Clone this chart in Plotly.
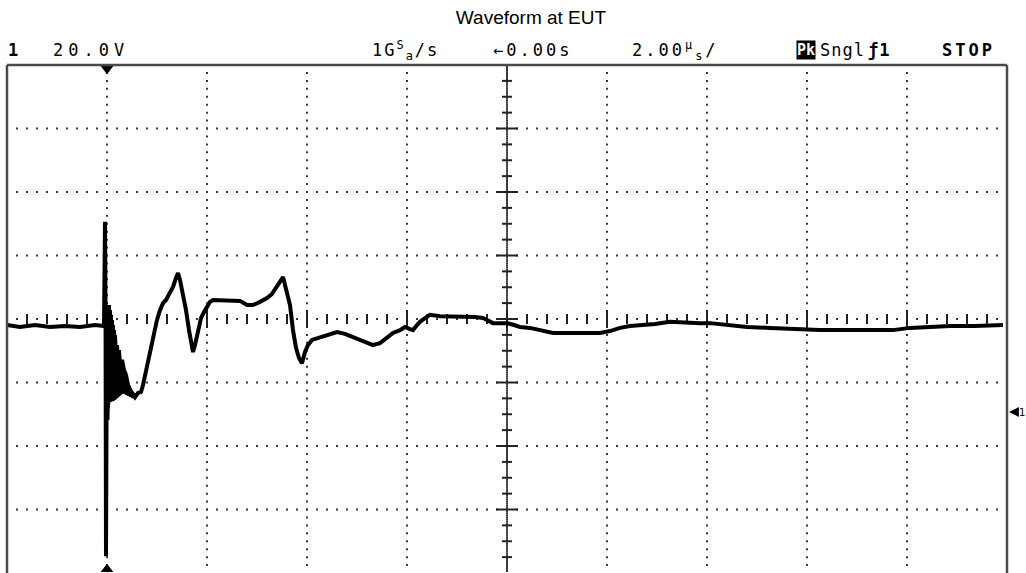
import plotly.graph_objects as go

# ---------------- data (time in µs, voltage in V relative to screen centre) -------------
t_us = [-10.0, -9.74, -9.44, -9.14, -8.84, -8.54, -8.24, -8.06,
        -8.04, -8.03, -8.02, -8.01, -8.00, -7.99, -7.98, -7.97, -7.96, -7.95, -7.94, -7.93,
        -7.92, -7.91, -7.90, -7.89, -7.88, -7.87, -7.86, -7.85, -7.84, -7.82, -7.80, -7.78,
        -7.76, -7.74, -7.70, -7.66, -7.62, -7.58, -7.54, -7.48, -7.44, -7.38, -7.32, -7.28,
        -7.22, -7.14, -7.06, -7.00, -6.94, -6.88, -6.82, -6.76, -6.68, -6.62, -6.58, -6.54,
        -6.48, -6.42, -6.36, -6.32, -6.28, -6.24, -6.18, -6.12, -6.06, -6.00, -5.94, -5.88,
        -5.74, -5.54, -5.34, -5.20, -5.08, -4.94, -4.80, -4.70, -4.60, -4.54, -4.48, -4.44,
        -4.40, -4.34, -4.28, -4.22, -4.16, -4.10, -4.04, -3.98, -3.90, -3.74, -3.54, -3.40,
        -3.24, -3.08, -2.94, -2.80, -2.68, -2.54, -2.40, -2.28, -2.14, -2.04, -1.94, -1.88,
        -1.80, -1.74, -1.64, -1.54, -1.34, -1.20, -1.04, -0.80, -0.64, -0.48, -0.34, -0.28,
        -0.14, 0.00, 0.14, 0.26, 0.46, 0.66, 0.80, 0.92, 1.16, 1.46, 1.86, 2.06, 2.26, 2.46,
        2.72, 2.96, 3.26, 3.60, 3.86, 4.06, 4.36, 4.80, 5.26, 5.72, 6.26, 6.66, 7.06, 7.46,
        7.72, 8.06, 8.40, 8.86, 9.36, 9.92]
volts = [-1.9, -2.5, -1.9, -2.5, -2.2, -2.5, -1.9, -2.2,
         30.6, 6.0, -74.7, -3.5, 4.4, -31.8, 2.8, -25.5, 4.4, -22.4, 2.8, -20.8,
         1.3, -18.6, -0.3, -16.7, -1.9, -15.4, -3.5, -14.8, -5.0, -12.9, -8.2, -13.5,
         -9.8, -14.5, -12.9, -16.1, -17.6, -20.8, -22.4, -23.6, -24.6, -23.3, -23.0, -20.8,
         -16.1, -9.8, -4.4, -0.3, 2.8, 5.0, 6.0, 7.6, 10.1, 12.9, 14.5, 12.3,
         8.2, 2.8, -3.5, -6.6, -10.4, -8.2, -3.5, 0.3, 2.2, 3.8, 5.4, 6.0,
         6.0, 6.0, 5.7, 4.4, 4.4, 5.4, 6.6, 7.9, 10.1, 11.7, 13.2, 10.7,
         8.2, 4.4, -3.5, -9.1, -12.3, -13.9, -10.4, -8.2, -6.6, -5.7, -4.7, -4.1,
         -4.7, -5.7, -6.6, -7.6, -8.2, -7.6, -6.0, -4.4, -3.5, -2.5, -3.2, -3.5,
         -1.9, -0.9, 0.3, 1.3, 0.9, 0.9, 0.6, 0.6, 0.6, 0.3, -0.6, -1.3,
         -1.3, -1.3, -1.9, -2.5, -2.8, -3.5, -4.1, -4.4, -4.4, -4.4, -4.4, -3.8, -2.8, -2.2,
         -1.9, -1.6, -0.9, -1.3, -1.3, -1.3, -1.9, -2.5, -2.8, -3.2, -3.5, -3.5, -3.5, -3.5,
         -3.5, -2.8, -2.5, -2.2, -2.2, -1.9]

# envelope of the dense ringing just after the spike (outline)
ring_t = [-8.04, -8.00, -7.94, -7.88, -7.84, -7.74, -7.60, -7.48, -7.40,
          -7.48, -7.68, -7.84, -7.94, -8.00, -8.02]
ring_v = [5.0, 4.4, 1.3, -3.5, -6.6, -12.9, -19.2, -23.0, -24.6,
          -24.9, -23.3, -25.5, -26.1, -31.8, -38.1]

# screen settings
US_PER_DIV = 2.0
V_PER_DIV = 20.0
X_DIVS = [-10, -8, -6, -4, -2, 0, 2, 4, 6, 8, 10]
Y_DIVS = [-80, -60, -40, -20, 0, 20, 40, 60, 80]
TRIGGER_T = -8.0
GROUND_V = -29.3

header_items = [  # text, left pixel, bold, letter spacing
    ("1", 6, True, 0),
    ("20.0V", 51, False, 5),
    ("1G<sup>S</sup><sub>a</sub>/s", 370, False, 2),
    ("\u21900.00s", 491, False, 3),
    ("2.00<sup>\u00b5</sup><sub>s</sub>/", 630, False, 3),
    ("Sngl", 818, False, 1),
    ("\u01921", 866, True, 1),
    ("STOP", 940, True, 3),
]

W, H = 1026, 573
ML, MR, MT, MB = 7, 19, 65, 0
PW, PH = W - ML - MR, H - MT - MB


def px_to_paper_x(px):
    return (px - ML) / PW


def py_to_paper_y(py):
    return (H - MB - py) / PH


fig = go.Figure()

DOT = "#3a3a3a"
# ----- dotted graticule -----
gx, gy = [], []
n_sub_x = 10
for yv in Y_DIVS[1:-1]:
    if yv == 0:
        continue
    for i in range(1, 10 * n_sub_x):
        gx.append(X_DIVS[0] + i * US_PER_DIV / n_sub_x)
        gy.append(yv)
n_sub_y = 8
for xv in X_DIVS[1:-1]:
    if xv == 0:
        continue
    for i in range(1, 8 * n_sub_y):
        gx.append(xv)
        gy.append(Y_DIVS[0] + i * V_PER_DIV / n_sub_y)
# centre lines (denser dots)
for i in range(1, 10 * n_sub_x):
    gx.append(X_DIVS[0] + i * US_PER_DIV / n_sub_x)
    gy.append(0)
for i in range(1, 8 * 32):
    gx.append(0)
    gy.append(Y_DIVS[0] + i * V_PER_DIV / 32)
fig.add_trace(go.Scatter(x=gx, y=gy, mode="markers",
                         marker=dict(symbol="square", size=2, color=DOT, line=dict(width=0)),
                         hoverinfo="skip", showlegend=False))

# ----- centre-axis tick marks -----
tx, ty = [], []
for i in range(1, 10 * 5):
    x = X_DIVS[0] + i * US_PER_DIV / 5
    h = 2.8 if i % 5 == 0 else 1.6
    tx += [x, x, None]
    ty += [-h, h, None]
for i in range(1, 8 * 4):
    y = Y_DIVS[0] + i * V_PER_DIV / 4
    w = 0.22 if i % 4 == 0 else 0.1
    tx += [-w, w, None]
    ty += [y, y, None]
fig.add_trace(go.Scatter(x=tx, y=ty, mode="lines", line=dict(color="#222", width=2),
                         hoverinfo="skip", showlegend=False))

# ----- waveform -----
fig.add_trace(go.Scatter(x=ring_t, y=ring_v, mode="lines", fill="toself",
                         fillcolor="black", line=dict(color="black", width=1),
                         hoverinfo="skip", showlegend=False))
fig.add_trace(go.Scatter(x=t_us, y=volts, mode="lines",
                         line=dict(color="black", width=4),
                         showlegend=False, name="CH1"))

# ----- trigger position markers -----
fig.add_trace(go.Scatter(x=[TRIGGER_T, TRIGGER_T], y=[Y_DIVS[-1] - 1.2, Y_DIVS[0] + 1.2],
                         mode="markers", cliponaxis=False,
                         marker=dict(symbol=["triangle-down", "triangle-up"], size=11,
                                     color="black", line=dict(width=0)),
                         hoverinfo="skip", showlegend=False))

# ----- frame (left, top, right) -----
FRAME = "#4a4a4a"
for x0, y0, x1, y1 in [(0, 0, 0, 1), (0, 1, 1, 1), (1, 0, 1, 1)]:
    fig.add_shape(type="line", xref="paper", yref="paper", x0=x0, y0=y0, x1=x1, y1=y1,
                  line=dict(color=FRAME, width=2.5))

# ----- header -----
hy = py_to_paper_y(50)
for text, px, bold, ls in header_items:
    body = "<span style='letter-spacing:%dpx'>%s</span>" % (ls, text)
    fig.add_annotation(text=("<b>%s</b>" % body) if bold else body,
                       xref="paper", yref="paper", x=px_to_paper_x(px), y=hy,
                       xanchor="left", yanchor="middle", showarrow=False,
                       font=dict(family="DejaVu Sans Mono", size=17, color="black"))
fig.add_annotation(text="<b>Pk</b>", xref="paper", yref="paper",
                   x=px_to_paper_x(796), y=hy, xanchor="left", yanchor="middle",
                   showarrow=False, bgcolor="black", borderpad=0,
                   font=dict(family="DejaVu Sans Mono", size=15, color="white"))

# ----- channel ground reference marker (right edge) -----
fig.add_annotation(text="1", xref="paper", yref="y",
                   x=px_to_paper_x(1009), y=GROUND_V,
                   showarrow=True, arrowhead=2, arrowsize=0.9, arrowwidth=2.2,
                   arrowcolor="black", ax=13, ay=0, standoff=0,
                   font=dict(family="DejaVu Sans", size=10, color="black"))

fig.update_layout(
    width=W, height=H,
    margin=dict(l=ML, r=MR, t=MT, b=MB, autoexpand=False),
    paper_bgcolor="white", plot_bgcolor="white",
    title=dict(text="Waveform at EUT", x=531 / W, xanchor="center", y=1 - 17 / H,
               yanchor="middle",
               font=dict(family="Liberation Sans, Arial", size=19, color="black")),
    xaxis=dict(range=[X_DIVS[0], X_DIVS[-1]], showgrid=False, zeroline=False,
               showticklabels=False, ticks="", fixedrange=True),
    yaxis=dict(range=[Y_DIVS[0], Y_DIVS[-1]], showgrid=False, zeroline=False,
               showticklabels=False, ticks="", fixedrange=True),
)

fig.write_html("out.html", config={"displayModeBar": False},
               post_script="document.body.style.margin='0';document.body.style.padding='0';")
